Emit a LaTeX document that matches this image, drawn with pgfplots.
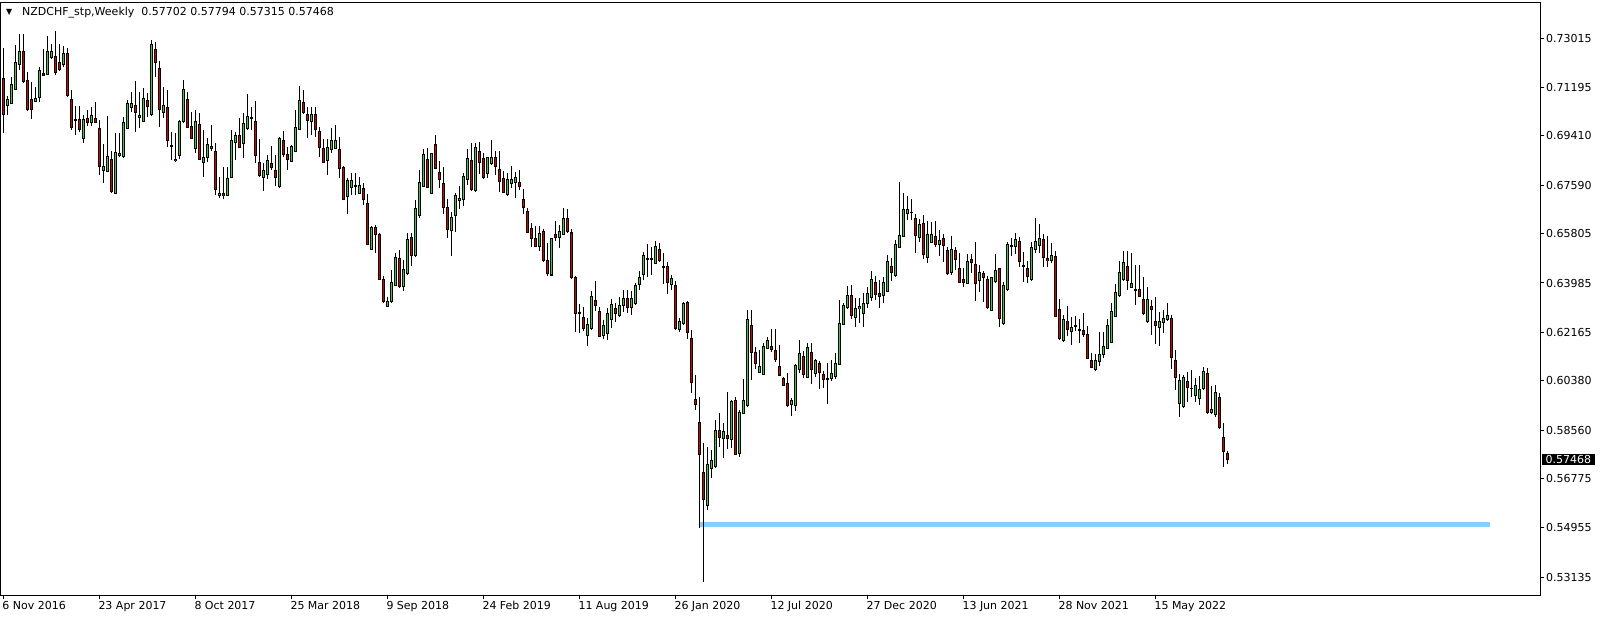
\documentclass[border=0pt]{standalone}
\usepackage{fontspec}
\setmainfont{DejaVu Sans}
\usepackage{pgfplots}
\usepackage{pgfplotstable}
\pgfplotsset{compat=1.18}
\definecolor{cgreen}{RGB}{34,221,34}
\definecolor{cred}{RGB}{214,0,0}
\definecolor{sky}{RGB}{135,206,250}

\pgfplotstableread{
i o h l c
0 0.7154 0.7264 0.6951 0.7021
1 0.7054 0.7089 0.7018 0.7074
2 0.7062 0.7160 0.7060 0.7132
3 0.7113 0.7277 0.7111 0.7213
4 0.7205 0.7317 0.7185 0.7253
5 0.7253 0.7317 0.7138 0.7141
6 0.7144 0.7178 0.7034 0.7037
7 0.7076 0.7141 0.7003 0.7039
8 0.7069 0.7123 0.7066 0.7078
9 0.7082 0.7197 0.7065 0.7183
10 0.7173 0.7261 0.7162 0.7165
11 0.7169 0.7310 0.7166 0.7253
12 0.7231 0.7280 0.7224 0.7251
13 0.7236 0.7328 0.7166 0.7177
14 0.7213 0.7280 0.7182 0.7187
15 0.7205 0.7273 0.7197 0.7244
16 0.7247 0.7264 0.7086 0.7089
17 0.7076 0.7111 0.6963 0.6973
18 0.7000 0.7052 0.6945 0.7000
19 0.7000 0.7052 0.6957 0.6966
20 0.6932 0.7018 0.6914 0.7000
21 0.7006 0.7037 0.6978 0.6991
22 0.6991 0.7049 0.6978 0.7017
23 0.7006 0.7066 0.6990 0.6991
24 0.6967 0.7000 0.6797 0.6828
25 0.6813 0.6911 0.6766 0.6830
26 0.6809 0.7015 0.6809 0.6864
27 0.6856 0.6887 0.6732 0.6736
28 0.6729 0.6951 0.6727 0.6881
29 0.6868 0.6951 0.6865 0.6878
30 0.6866 0.7012 0.6859 0.6991
31 0.6969 0.7074 0.6969 0.7062
32 0.7047 0.7105 0.7031 0.7062
33 0.7054 0.7144 0.6957 0.7027
34 0.7009 0.7105 0.6969 0.7018
35 0.6994 0.7117 0.6994 0.7080
36 0.7073 0.7101 0.7012 0.7048
37 0.7020 0.7295 0.7016 0.7279
38 0.7261 0.7289 0.7160 0.7212
39 0.7191 0.7218 0.6975 0.7037
40 0.7027 0.7123 0.7006 0.7055
41 0.7047 0.7111 0.6902 0.6924
42 0.6906 0.6957 0.6852 0.6905
43 0.6855 0.6951 0.6846 0.6850
44 0.6870 0.7000 0.6855 0.6996
45 0.6994 0.7148 0.6990 0.7111
46 0.7076 0.7105 0.6969 0.6972
47 0.6975 0.7031 0.6932 0.6932
48 0.6895 0.7037 0.6877 0.6993
49 0.6984 0.7025 0.6852 0.6855
50 0.6844 0.6963 0.6788 0.6860
51 0.6860 0.6932 0.6846 0.6910
52 0.6894 0.6982 0.6887 0.6904
53 0.6884 0.6914 0.6723 0.6742
54 0.6722 0.6791 0.6711 0.6729
55 0.6729 0.6828 0.6707 0.6721
56 0.6721 0.6828 0.6721 0.6785
57 0.6787 0.6963 0.6785 0.6925
58 0.6916 0.6957 0.6852 0.6943
59 0.6943 0.7006 0.6895 0.6899
60 0.6914 0.7025 0.6859 0.6988
61 0.6969 0.7096 0.6963 0.7014
62 0.7010 0.7049 0.6963 0.7007
63 0.6993 0.7070 0.6840 0.6870
64 0.6844 0.6930 0.6791 0.6795
65 0.6788 0.6840 0.6739 0.6814
66 0.6800 0.6871 0.6781 0.6851
67 0.6840 0.6904 0.6816 0.6825
68 0.6814 0.6871 0.6757 0.6788
69 0.6754 0.6939 0.6748 0.6930
70 0.6923 0.6959 0.6865 0.6871
71 0.6873 0.6899 0.6816 0.6855
72 0.6848 0.6908 0.6844 0.6903
73 0.6884 0.7037 0.6883 0.6973
74 0.6966 0.7126 0.6963 0.7073
75 0.7065 0.7111 0.7022 0.7028
76 0.7021 0.7049 0.6935 0.6998
77 0.6994 0.7049 0.6945 0.7021
78 0.7021 0.7049 0.6936 0.6964
79 0.6959 0.6975 0.6862 0.6899
80 0.6895 0.6929 0.6840 0.6844
81 0.6850 0.6929 0.6797 0.6899
82 0.6892 0.6969 0.6877 0.6925
83 0.6895 0.6982 0.6895 0.6925
84 0.6892 0.6939 0.6785 0.6822
85 0.6824 0.6830 0.6705 0.6707
86 0.6717 0.6785 0.6653 0.6775
87 0.6752 0.6803 0.6723 0.6777
88 0.6759 0.6803 0.6723 0.6757
89 0.6729 0.6788 0.6727 0.6758
90 0.6748 0.6766 0.6686 0.6707
91 0.6693 0.6727 0.6539 0.6541
92 0.6523 0.6609 0.6520 0.6604
93 0.6604 0.6612 0.6511 0.6576
94 0.6576 0.6582 0.6410 0.6412
95 0.6412 0.6424 0.6326 0.6330
96 0.6311 0.6346 0.6311 0.6331
97 0.6330 0.6447 0.6323 0.6401
98 0.6391 0.6511 0.6387 0.6493
99 0.6490 0.6520 0.6379 0.6385
100 0.6387 0.6483 0.6370 0.6449
101 0.6434 0.6582 0.6428 0.6560
102 0.6567 0.6584 0.6463 0.6499
103 0.6499 0.6705 0.6496 0.6672
104 0.6646 0.6816 0.6640 0.6771
105 0.6755 0.6892 0.6752 0.6873
106 0.6855 0.6895 0.6750 0.6752
107 0.6729 0.6879 0.6729 0.6875
108 0.6908 0.6945 0.6822 0.6822
109 0.6808 0.6849 0.6750 0.6779
110 0.6764 0.6825 0.6652 0.6677
111 0.6678 0.6707 0.6563 0.6597
112 0.6592 0.6659 0.6499 0.6641
113 0.6646 0.6732 0.6588 0.6723
114 0.6702 0.6757 0.6672 0.6712
115 0.6707 0.6803 0.6684 0.6792
116 0.6781 0.6892 0.6760 0.6859
117 0.6851 0.6914 0.6738 0.6744
118 0.6739 0.6914 0.6736 0.6899
119 0.6884 0.6918 0.6801 0.6844
120 0.6859 0.6879 0.6782 0.6787
121 0.6803 0.6865 0.6785 0.6862
122 0.6838 0.6926 0.6834 0.6862
123 0.6862 0.6886 0.6797 0.6828
124 0.6818 0.6886 0.6736 0.6772
125 0.6785 0.6812 0.6729 0.6732
126 0.6726 0.6803 0.6720 0.6779
127 0.6766 0.6830 0.6748 0.6781
128 0.6769 0.6809 0.6711 0.6789
129 0.6771 0.6816 0.6742 0.6754
130 0.6705 0.6745 0.6652 0.6678
131 0.6664 0.6674 0.6584 0.6586
132 0.6598 0.6619 0.6533 0.6563
133 0.6561 0.6607 0.6533 0.6535
134 0.6535 0.6609 0.6518 0.6582
135 0.6590 0.6597 0.6477 0.6481
136 0.6483 0.6545 0.6426 0.6434
137 0.6428 0.6563 0.6428 0.6561
138 0.6578 0.6627 0.6554 0.6567
139 0.6567 0.6613 0.6527 0.6588
140 0.6576 0.6674 0.6576 0.6637
141 0.6637 0.6670 0.6584 0.6588
142 0.6586 0.6598 0.6413 0.6419
143 0.6419 0.6424 0.6217 0.6287
144 0.6289 0.6321 0.6215 0.6289
145 0.6272 0.6309 0.6223 0.6231
146 0.6203 0.6268 0.6166 0.6246
147 0.6231 0.6369 0.6225 0.6348
148 0.6333 0.6406 0.6295 0.6315
149 0.6295 0.6311 0.6200 0.6200
150 0.6203 0.6262 0.6191 0.6240
151 0.6213 0.6305 0.6188 0.6287
152 0.6262 0.6340 0.6231 0.6320
153 0.6306 0.6326 0.6253 0.6287
154 0.6277 0.6348 0.6274 0.6316
155 0.6316 0.6373 0.6293 0.6340
156 0.6340 0.6373 0.6287 0.6309
157 0.6309 0.6370 0.6281 0.6340
158 0.6324 0.6397 0.6317 0.6390
159 0.6392 0.6443 0.6373 0.6419
160 0.6431 0.6514 0.6410 0.6501
161 0.6487 0.6542 0.6422 0.6489
162 0.6489 0.6533 0.6428 0.6487
163 0.6471 0.6555 0.6469 0.6535
164 0.6523 0.6547 0.6477 0.6481
165 0.6460 0.6510 0.6395 0.6458
166 0.6459 0.6477 0.6357 0.6400
167 0.6394 0.6428 0.6373 0.6416
168 0.6390 0.6406 0.6225 0.6230
169 0.6228 0.6268 0.6219 0.6258
170 0.6250 0.6330 0.6244 0.6322
171 0.6328 0.6333 0.6192 0.6217
172 0.6192 0.6225 0.5994 0.6031
173 0.5969 0.6059 0.5930 0.5951
174 0.5882 0.5979 0.5493 0.5766
175 0.5700 0.5807 0.5296 0.5598
176 0.5579 0.5795 0.5561 0.5729
177 0.5715 0.5782 0.5680 0.5745
178 0.5721 0.5893 0.5715 0.5856
179 0.5856 0.5920 0.5795 0.5829
180 0.5825 0.5881 0.5752 0.5852
181 0.5834 0.5995 0.5785 0.5825
182 0.5822 0.5967 0.5789 0.5961
183 0.5966 0.5979 0.5764 0.5766
184 0.5770 0.5930 0.5755 0.5921
185 0.5918 0.6043 0.5918 0.5966
186 0.5946 0.6299 0.5942 0.6265
187 0.6242 0.6299 0.6041 0.6143
188 0.6143 0.6164 0.6080 0.6102
189 0.6068 0.6151 0.6065 0.6090
190 0.6062 0.6178 0.6061 0.6166
191 0.6157 0.6201 0.6154 0.6188
192 0.6166 0.6228 0.6145 0.6154
193 0.6148 0.6229 0.6108 0.6117
194 0.6092 0.6170 0.6055 0.6058
195 0.6047 0.6053 0.6018 0.6021
196 0.6028 0.6065 0.5940 0.5947
197 0.5951 0.5973 0.5909 0.5966
198 0.5947 0.6100 0.5927 0.6095
199 0.6078 0.6188 0.6068 0.6139
200 0.6129 0.6148 0.6047 0.6062
201 0.6050 0.6176 0.6050 0.6162
202 0.6143 0.6176 0.6025 0.6080
203 0.6065 0.6118 0.6053 0.6111
204 0.6102 0.6111 0.6006 0.6069
205 0.6062 0.6075 0.6012 0.6043
206 0.6046 0.6102 0.5951 0.6045
207 0.6047 0.6114 0.6038 0.6065
208 0.6053 0.6142 0.6043 0.6100
209 0.6098 0.6336 0.6098 0.6250
210 0.6246 0.6324 0.6244 0.6314
211 0.6309 0.6388 0.6303 0.6351
212 0.6351 0.6391 0.6264 0.6279
213 0.6272 0.6344 0.6235 0.6306
214 0.6304 0.6344 0.6252 0.6311
215 0.6287 0.6360 0.6235 0.6321
216 0.6321 0.6385 0.6305 0.6358
217 0.6346 0.6443 0.6332 0.6410
218 0.6399 0.6424 0.6336 0.6357
219 0.6358 0.6410 0.6307 0.6348
220 0.6351 0.6422 0.6324 0.6399
221 0.6368 0.6502 0.6367 0.6476
222 0.6461 0.6490 0.6407 0.6437
223 0.6427 0.6557 0.6419 0.6541
224 0.6530 0.6770 0.6530 0.6572
225 0.6570 0.6732 0.6567 0.6668
226 0.6656 0.6720 0.6631 0.6670
227 0.6660 0.6707 0.6631 0.6659
228 0.6637 0.6652 0.6511 0.6573
229 0.6567 0.6634 0.6549 0.6616
230 0.6619 0.6649 0.6486 0.6504
231 0.6493 0.6629 0.6474 0.6576
232 0.6549 0.6625 0.6547 0.6578
233 0.6570 0.6627 0.6533 0.6541
234 0.6541 0.6594 0.6498 0.6557
235 0.6563 0.6579 0.6477 0.6538
236 0.6520 0.6530 0.6428 0.6433
237 0.6438 0.6572 0.6428 0.6523
238 0.6517 0.6533 0.6447 0.6486
239 0.6453 0.6508 0.6400 0.6401
240 0.6410 0.6453 0.6385 0.6400
241 0.6397 0.6504 0.6395 0.6478
242 0.6487 0.6504 0.6434 0.6475
243 0.6467 0.6551 0.6333 0.6397
244 0.6406 0.6465 0.6364 0.6438
245 0.6434 0.6443 0.6330 0.6419
246 0.6413 0.6426 0.6303 0.6308
247 0.6298 0.6422 0.6297 0.6417
248 0.6403 0.6506 0.6397 0.6446
249 0.6453 0.6453 0.6237 0.6268
250 0.6250 0.6403 0.6244 0.6390
251 0.6375 0.6551 0.6370 0.6541
252 0.6535 0.6563 0.6498 0.6536
253 0.6535 0.6582 0.6506 0.6560
254 0.6552 0.6567 0.6456 0.6477
255 0.6463 0.6514 0.6403 0.6462
256 0.6453 0.6480 0.6397 0.6422
257 0.6410 0.6551 0.6407 0.6530
258 0.6523 0.6637 0.6510 0.6552
259 0.6536 0.6616 0.6510 0.6563
260 0.6560 0.6578 0.6459 0.6492
261 0.6490 0.6572 0.6459 0.6480
262 0.6481 0.6547 0.6474 0.6499
263 0.6496 0.6518 0.6274 0.6274
264 0.6301 0.6338 0.6188 0.6194
265 0.6188 0.6281 0.6182 0.6262
266 0.6256 0.6314 0.6203 0.6228
267 0.6219 0.6272 0.6170 0.6235
268 0.6241 0.6277 0.6223 0.6242
269 0.6226 0.6266 0.6178 0.6225
270 0.6225 0.6287 0.6200 0.6207
271 0.6209 0.6240 0.6117 0.6119
272 0.6111 0.6142 0.6084 0.6087
273 0.6081 0.6137 0.6075 0.6112
274 0.6108 0.6219 0.6094 0.6135
275 0.6133 0.6219 0.6121 0.6166
276 0.6157 0.6266 0.6155 0.6242
277 0.6178 0.6323 0.6176 0.6295
278 0.6274 0.6394 0.6274 0.6364
279 0.6352 0.6480 0.6348 0.6439
280 0.6413 0.6517 0.6407 0.6475
281 0.6461 0.6518 0.6373 0.6407
282 0.6381 0.6510 0.6379 0.6397
283 0.6374 0.6465 0.6317 0.6373
284 0.6375 0.6465 0.6346 0.6348
285 0.6338 0.6422 0.6280 0.6287
286 0.6256 0.6383 0.6252 0.6336
287 0.6310 0.6336 0.6207 0.6301
288 0.6255 0.6348 0.6173 0.6240
289 0.6235 0.6293 0.6166 0.6256
290 0.6252 0.6299 0.6213 0.6266
291 0.6265 0.6323 0.6260 0.6277
292 0.6269 0.6281 0.6080 0.6123
293 0.6111 0.6151 0.6004 0.6050
294 0.5955 0.6063 0.5903 0.6039
295 0.5942 0.6059 0.5936 0.6048
296 0.6036 0.6071 0.5961 0.6014
297 0.6011 0.6078 0.5979 0.6010
298 0.5983 0.6047 0.5961 0.6021
299 0.5973 0.6055 0.5948 0.6006
300 0.6010 0.6087 0.6004 0.6073
301 0.6066 0.6084 0.5915 0.5921
302 0.5920 0.6019 0.5915 0.5930
303 0.5915 0.6022 0.5903 0.5995
304 0.5977 0.5994 0.5859 0.5864
305 0.5829 0.5883 0.5721 0.5776
306 0.57702 0.57794 0.57315 0.57468
}\candles

\begin{document}
\begin{tikzpicture}
\begin{axis}[
  scale only axis, width=1539bp, height=592bp,
  xmin=-0.575, xmax=384.175, ymin=0.52472, ymax=0.74317,
  clip=false,
  axis line style={black, line width=1bp},
  tick style={black, line width=1bp},
  tick align=outside, major tick length=4bp,
  xtick pos=bottom, ytick pos=right, yticklabel pos=right,
  font=\fontsize{11bp}{13bp}\selectfont,
  xtick={0,24,48,72,96,120,144,168,192,216,240,264,288},
  xticklabels={6 Nov 2016,23 Apr 2017,8 Oct 2017,25 Mar 2018,9 Sep 2018,24 Feb 2019,11 Aug 2019,26 Jan 2020,12 Jul 2020,27 Dec 2020,13 Jun 2021,28 Nov 2021,15 May 2022},
  xticklabel style={anchor=north west, inner sep=0pt, yshift=-2bp, xshift=-1bp},
  ytick={0.73015,0.71195,0.69410,0.67590,0.65805,0.63985,0.62165,0.60380,0.58560,0.56775,0.54955,0.53135},
  yticklabels={0.73015,0.71195,0.69410,0.67590,0.65805,0.63985,0.62165,0.60380,0.58560,0.56775,0.54955,0.53135},
  yticklabel style={anchor=west, inner sep=0pt, xshift=2bp},
  minor tick num=0,
]
% support line
\addplot[sky, line width=5.3bp] coordinates {(173.9,0.55067) (371.7,0.55067)};
% wicks
\addplot[draw=none, mark=none, error bars/.cd, y dir=both, y explicit, error mark=none,
  error bar style={draw=black, line width=1bp}]
  table[x=i, y expr={0.5*(\thisrow{h}+\thisrow{l})}, y error expr={0.5*(\thisrow{h}-\thisrow{l})}] {\candles};
% body outlines
\addplot[draw=none, mark=none, error bars/.cd, y dir=both, y explicit, error mark=none,
  error bar style={draw=black, line width=3.4bp}]
  table[x=i, y expr={0.5*(\thisrow{o}+\thisrow{c})}, y error expr={0.5*abs(\thisrow{c}-\thisrow{o})+0.000185}] {\candles};
% bull bodies
\addplot[draw=none, mark=none, error bars/.cd, y dir=both, y explicit, error mark=none,
  error bar style={draw=cgreen, line width=1.5bp}]
  table[x=i, y expr={\thisrow{c}>=\thisrow{o} ? 0.5*(\thisrow{o}+\thisrow{c}) : nan}, y error expr={max(0.5*abs(\thisrow{c}-\thisrow{o})-0.000185,0)}] {\candles};
% bear bodies
\addplot[draw=none, mark=none, error bars/.cd, y dir=both, y explicit, error mark=none,
  error bar style={draw=cred, line width=1.5bp}]
  table[x=i, y expr={\thisrow{c}<\thisrow{o} ? 0.5*(\thisrow{o}+\thisrow{c}) : nan}, y error expr={max(0.5*abs(\thisrow{c}-\thisrow{o})-0.000185,0)}] {\candles};
% header
\node[anchor=west, inner sep=0pt] at ([shift={(5bp,-9.5bp)}]rel axis cs:0,1) {\fontsize{8bp}{9bp}\selectfont ▼};
\node[anchor=west, inner sep=0pt] at ([shift={(21bp,-9.5bp)}]rel axis cs:0,1) {NZDCHF\_stp,Weekly\ \ 0.57702 0.57794 0.57315 0.57468};
% current price label
\node[anchor=west, fill=black, text=white, inner xsep=4bp, inner ysep=1.5bp] at ([xshift=1.5bp]axis cs:384.175,0.57468) {0.57468};
\end{axis}
\pgfresetboundingbox
\path (-1bp,-24bp) rectangle (1603bp,595bp);
\end{tikzpicture}
\end{document}
